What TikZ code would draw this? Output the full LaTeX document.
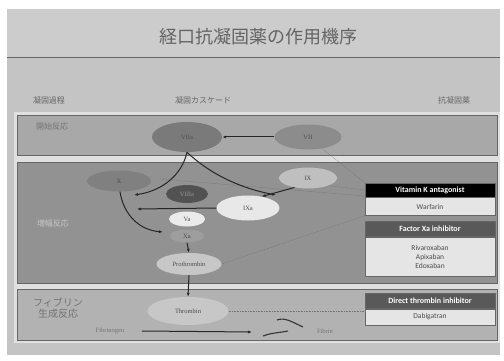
\documentclass[tikz,border=0pt]{standalone}
\usepackage{fontspec}
\setmainfont{Carlito}
\newfontfamily\jpf{Noto Sans CJK JP}
\newfontfamily\serf{Liberation Serif}
\usetikzlibrary{shapes.geometric,arrows.meta}
\definecolor{slidebg}{HTML}{C4C4C4}
\definecolor{bandA}{HTML}{A8A8A8}
\definecolor{bandB}{HTML}{929292}
\definecolor{bandC}{HTML}{B2B2B2}
\definecolor{bandline}{HTML}{666666}
\definecolor{txtgray}{HTML}{646464}
\begin{document}
\begin{tikzpicture}[x=1pt,y=-1pt,
  ell/.style={ellipse, inner sep=0pt, font=\serf\fontsize{6.5}{7}\selectfont, text=black!70},
  arr/.style={-{Latex[length=4pt,width=3pt]}, line width=1pt, black!85},
  dots/.style={densely dotted, line width=0.6pt, black!55},
  band/.style={draw=bandline, line width=0.8pt},
  hdr/.style={font=\jpf\fontsize{8}{9}\selectfont, text=txtgray},
  boxhead/.style={draw=black!60, line width=0.5pt, minimum width=130pt, inner sep=0pt, text=white, font=\bfseries\fontsize{8}{9}\selectfont},
  boxbody/.style={draw=black!60, line width=0.5pt, fill=black!10, minimum width=130pt, inner sep=0pt, text=black!70, font=\fontsize{7.5}{9}\selectfont, align=center}]
\useasboundingbox (0,0) rectangle (504,361);
\fill[white] (0,0) rectangle (504,361);
\fill[slidebg] (7,9) rectangle (500,355);
\fill[black!20] (7,9) rectangle (500,58);
\draw[black!60, line width=1pt] (7,58) -- (500,58);
\node[font=\jpf\fontsize{18}{20}\selectfont, text=txtgray] (title) at (258,37) {経口抗凝固薬の作用機序};
% column headers
\node[hdr] (h1) at (49,100) {凝固過程};
\node[hdr] (h2) at (203,100) {凝固カスケード};
\node[hdr, text=black!60] (h3) at (454,100) {抗凝固薬};
% bands
\fill[black!12] (14,112) rectangle (500,343);
\draw[band, fill=bandA] (17,115) rectangle (497,155);
\draw[band, fill=bandB] (17,162) rectangle (497,283);
\draw[band, fill=bandC] (17,289) rectangle (497,340);
\node[hdr, text=black!55] (l1) at (52,126) {開始反応};
\node[hdr, text=black!22] (l2) at (53,223) {増幅反応};
\node[hdr, text=black!55, align=center, font=\jpf\fontsize{10}{11}\selectfont] (l3) at (58,308) {フィブリン\\生成反応};
% right boxes
\node[boxhead, fill=black, minimum height=14pt] (vkah) at (430,190) {Vitamin K antagonist};
\node[boxbody, minimum height=18pt, anchor=north] (vkab) at (vkah.south) {Warfarin};
\node[boxhead, fill=black!65, minimum height=15pt] (fxah) at (430,229) {Factor Xa inhibitor};
\node[boxbody, minimum height=39pt, anchor=north] (fxab) at (fxah.south) {Rivaroxaban\\Apixaban\\Edoxaban};
\node[boxhead, fill=black!65, minimum height=15pt] (dtih) at (430,301) {Direct thrombin inhibitor};
\node[boxbody, minimum height=16pt, anchor=north] (dtib) at (dtih.south) {Dabigatran};
% ellipses
\node[ell, fill=black!45, minimum width=67pt, minimum height=25pt] (vii) at (308,137) {VII};
\node[ell, fill=black!52, minimum width=70pt, minimum height=30pt] (viia) at (187,137) {VIIa};
\coordinate (vkain) at (365,196);
\draw[dots] (vii.-40) -- (vkah.north west);
\draw[dots] (160,179) -- (vkain);
\node[ell, fill=black!50, minimum width=64pt, minimum height=21pt] (x) at (119,181) {X};
\node[ell, fill=black!25, minimum width=58pt, minimum height=21pt] (ix) at (308,178) {IX};
\draw[dots] (ix.-20) -- (vkah.west);
\node[ell, fill=black!68, minimum width=42pt, minimum height=18pt, text=black!40] (viiia) at (187,194) {VIIIa};
\node[ell, fill=black!9, minimum width=63pt, minimum height=25pt] (ixa) at (248,208) {IXa};
\node[ell, fill=black!8, minimum width=36pt, minimum height=15pt] (va) at (187,219) {Va};
\node[ell, fill=black!38, minimum width=34pt, minimum height=13pt] (xa) at (187,236) {Xa};
\node[ell, fill=black!22, minimum width=65pt, minimum height=22pt] (pro) at (189,264) {Prothrombin};
\node[ell, fill=black!22, minimum width=81pt, minimum height=28pt] (thr) at (188,311) {Thrombin};
\draw[dots] (pro.east) -- (vkab.south west);
\draw[dots] (thr.east) -- (dtih.west |- thr.east);
% arrows
\coordinate (xin) at (134,195);
\coordinate (ixin) at (276,195);
\coordinate (xleft) at (137,209);
\coordinate (xaend) at (163,232);
\draw[arr] (vii.west) -- (viia.east);
\draw[arr] (viia.south) .. controls (182,175) and (162,191) .. (xin);
\draw[arr] (viia.south) .. controls (212,176) and (244,189) .. (ixin);
\draw[arr] (ix.-145) -- (ixa.40);
\draw[arr] (ixa.west) -- (xleft);
\draw[arr] (x.-85) .. controls (124,216) and (140,230) .. (xaend);
\draw[arr] (xa.south) -- (pro.north);
\draw[arr] (pro.south) -- (thr.north);
% fibrin
\node[font=\serf\fontsize{6.5}{7}\selectfont, text=black!55] (fbg) at (110,331) {Fibrinogen};
\coordinate (fbgend) at (252,332);
\draw[arr] (fbg.east) ++(14,0) -- (fbgend);
\node[font=\serf\fontsize{6.5}{7}\selectfont, text=black!55] (fib) at (325,331) {Fibrin};
\draw[line width=1.1pt, black!80] (277,320) .. controls (285,317) and (292,322) .. (303,327);
\draw[line width=1.1pt, black!80] (263,336) .. controls (270,333) and (278,333) .. (288,331);
\end{tikzpicture}
\end{document}
